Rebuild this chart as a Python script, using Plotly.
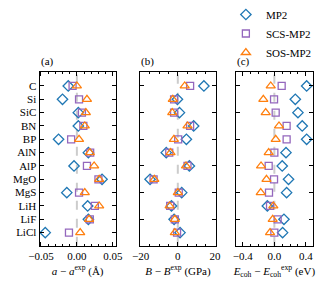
import plotly.graph_objects as go

materials = ["C", "Si", "SiC", "BN", "BP", "AlN", "AlP", "MgO", "MgS", "LiH", "LiF", "LiCl"]
methods = ["MP2", "SCS-MP2", "SOS-MP2"]

# (a) lattice constant error (Angstrom)
a_mp2 = [-0.012, -0.020, 0.002, 0.002, -0.0255, 0.016, -0.004, 0.035, -0.014, 0.015, 0.016, -0.044]
a_scs = [-0.006, 0.003, 0.007, 0.009, -0.008, 0.0185, 0.014, 0.030, 0.003, 0.025, 0.018, -0.011]
a_sos = [0.000, 0.014, 0.0125, 0.011, 0.003, 0.018, 0.024, 0.031, 0.011, 0.031, 0.017, 0.0046]

# (b) bulk modulus error (GPa)
b_mp2 = [14.0, -0.2, 0.9, 8.5, 4.6, -6.2, 6.2, -14.9, 2.1, -3.4, -2.0, 1.2]
b_scs = [6.6, -2.0, -2.0, 6.6, 0.2, -4.6, 5.2, -13.0, 0.5, -4.1, -1.6, -0.4]
b_sos = [3.7, -2.7, -3.0, 5.2, -2.1, -3.9, 4.4, -12.6, 0.0, -4.4, -1.6, -1.6]

# (c) cohesive energy error (eV)
c_mp2 = [0.41, 0.266, 0.30, 0.354, 0.41, 0.148, 0.10, 0.18, 0.156, -0.089, 0.122, 0.105]
c_scs = [0.093, -0.004, 0.017, 0.156, 0.156, 0.0, -0.072, -0.004, -0.068, -0.055, 0.042, 0.0]
c_sos = [-0.046, -0.14, -0.11, 0.059, 0.017, -0.072, -0.169, -0.10, -0.173, -0.013, -0.021, -0.055]

colors = ["#1f77b4", "#9467bd", "#ff7f0e"]
symbols = ["diamond-open", "square-open", "triangle-up-open"]
sizes = [8, 7, 8]

panels = [
    (a_mp2, a_scs, a_sos),
    (b_mp2, b_scs, b_sos),
    (c_mp2, c_scs, c_sos),
]
xranges = [[-0.052, 0.054], [-20.3, 20.5], [-0.487, 0.487]]
xdticks = [0.05, 20, 0.4]
xminor = [0.01, 5, 0.1]
xformats = [".2f", "d", ".1f"]
xtitles = [
    "<i>a</i> − <i>a</i><sup>exp</sup> (Å)",
    "<i>B</i> − <i>B</i><sup>exp</sup> (GPa)",
    "<i>E</i><sub>coh</sub> − <i>E</i><sub>coh</sub><sup>exp</sup> (eV)",
]
panel_labels = ["(a)", "(b)", "(c)"]

W, H = 325, 290
domains = [[39.5 / W, 115.7 / W], [140 / W, 216 / W], [236 / W, 312.7 / W]]
ydom = [1 - 245.7 / H, 1 - 71.7 / H]

FONT = "Liberation Serif"
fig = go.Figure()

for i, series in enumerate(panels):
    xa = "x" if i == 0 else f"x{i+1}"
    ya = "y" if i == 0 else f"y{i+1}"
    # zero reference line spanning the full panel height
    fig.add_shape(type="line", xref=xa, yref=f"{ya} domain",
                  x0=0, x1=0, y0=0, y1=1, layer="below",
                  line=dict(color="#cccccc", width=2, dash="dash"))
    for j, vals in enumerate(series):
        fig.add_trace(go.Scatter(
            x=vals, y=materials, mode="markers", name=methods[j],
            marker=dict(symbol=symbols[j], size=sizes[j], color=colors[j],
                        line=dict(width=1.3, color=colors[j])),
            xaxis=xa, yaxis=ya, showlegend=(i == 0), cliponaxis=False,
        ))

layout = dict(
    width=W, height=H,
    margin=dict(l=0, r=0, t=0, b=0, autoexpand=False),
    paper_bgcolor="white", plot_bgcolor="white",
    font=dict(family=FONT, size=11, color="black"),
    showlegend=True,
    legend=dict(x=0.695, y=1.0, xanchor="left", yanchor="top",
                font=dict(family=FONT, size=11), bgcolor="rgba(0,0,0,0)",
                itemsizing="trace", tracegroupgap=0),
)

for i in range(3):
    kx = "xaxis" if i == 0 else f"xaxis{i+1}"
    ky = "yaxis" if i == 0 else f"yaxis{i+1}"
    ya = "y" if i == 0 else f"y{i+1}"
    layout[kx] = dict(
        domain=domains[i], anchor=ya, range=xranges[i],
        dtick=xdticks[i], tick0=0, tickformat=xformats[i],
        ticks="inside", ticklen=4, tickwidth=1, tickcolor="black",
        minor=dict(dtick=xminor[i], tick0=0, ticks="inside", ticklen=2, tickwidth=0.8, tickcolor="black"),
        showline=True, linecolor="black", linewidth=1, mirror="ticks",
        showgrid=False, zeroline=False, automargin=False,
        tickfont=dict(family=FONT, size=11),
        title=dict(text=xtitles[i], font=dict(family=FONT, size=11), standoff=6),
    )
    layout[ky] = dict(
        domain=ydom, anchor="x" if i == 0 else f"x{i+1}",
        type="category", categoryorder="array", categoryarray=materials,
        range=[11.98, -1.07],
        ticks="inside", ticklen=4, tickwidth=1, tickcolor="black",
        showline=True, linecolor="black", linewidth=1, mirror="ticks",
        showgrid=False, zeroline=False, automargin=False,
        showticklabels=(i == 0),
        tickfont=dict(family=FONT, size=11),
    )

fig.update_layout(**layout)

label_x = [38.5, 139, 235]
for i in range(3):
    fig.add_annotation(
        text=panel_labels[i], xref="paper", yref="paper",
        x=label_x[i] / W, y=1 - 62 / H, xanchor="left", yanchor="middle",
        showarrow=False, font=dict(family=FONT, size=11),
    )

fig.write_html("out.html", config={"displayModeBar": False},
               post_script="document.body.style.margin='0';")
